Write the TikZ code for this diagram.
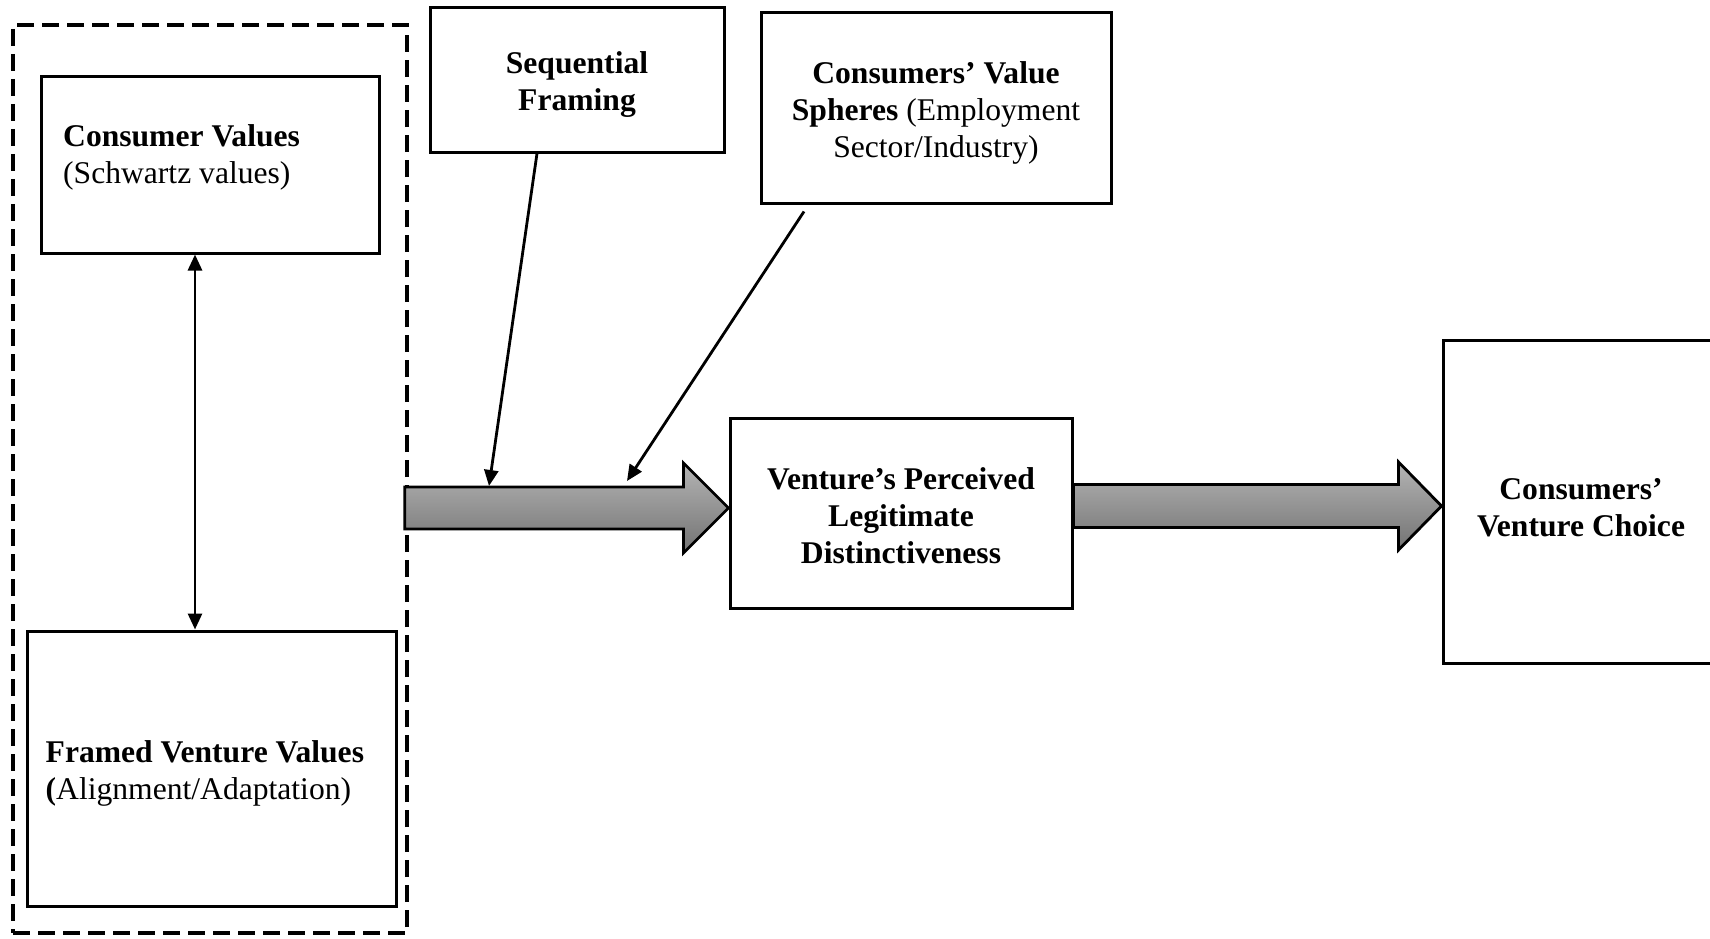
\documentclass[tikz,border=0pt]{standalone}
\usepackage{fontspec}
\setmainfont{Liberation Serif}
\usetikzlibrary{arrows.meta,calc}
\definecolor{arrtop}{RGB}{180,180,180}
\definecolor{arrbot}{RGB}{115,115,115}
\begin{document}
\begin{tikzpicture}[x=1pt,y=-1pt,
  txt/.style={font=\fontsize{31.6pt}{37pt}\selectfont},
  box/.style={draw, line width=3pt, inner sep=0pt},
  groupbox/.style={draw, line width=3.4pt, dash pattern=on 17pt off 8pt},
  lbl/.style={inner sep=0pt, txt},
  conn/.style={line width=2.8pt, -{Triangle[length=16pt,width=14pt]}},
  biconn/.style={line width=2.8pt, {Triangle[length=16pt,width=14pt]}-{Triangle[length=16pt,width=14pt]}},
  bigarrow/.style={draw, line width=2.8pt, top color=arrtop, bottom color=arrbot, line join=miter},
]
\clip (0,0) rectangle (1710,939);
\fill[white] (0,0) rectangle (1710,939);

% left group
\node[groupbox, minimum width=394pt, minimum height=908pt] (group) at (210,479) {};
\node[box, minimum width=338pt, minimum height=176pt] (cv) at (210,165) {};
\node[lbl, anchor=north west, align=left] (cvt) at (63,124) {\textbf{Consumer Values}\\(Schwartz values)};
\node[box, minimum width=369pt, minimum height=275pt] (fv) at (211.5,768.5) {};
\node[lbl, anchor=west, align=left] (fvt) at ($(fv.west)+(20,5)$)
  {\textbf{Framed Venture Values}\\\textbf{(}Alignment/Adaptation)};

% top boxes
\node[box, minimum width=294pt, minimum height=144pt] (seq) at (577,80) {};
\node[lbl, align=center] (seqt) at ($(seq)+(0,5)$) {\textbf{Sequential}\\\textbf{Framing}};
\node[box, minimum width=350pt, minimum height=190pt] (vs) at (936,108) {};
\node[lbl, align=center] (vst) at ($(vs)+(0,5)$)
  {\textbf{Consumers’ Value}\\\textbf{Spheres} (Employment\\Sector/Industry)};

% middle and right
\node[box, minimum width=342pt, minimum height=190pt] (leg) at (901,513) {};
\node[lbl, align=center] (legt) at ($(leg)+(0,3)$)
  {\textbf{Venture’s Perceived}\\\textbf{Legitimate}\\\textbf{Distinctiveness}};
\node[box, minimum width=276pt, minimum height=323pt] (ch) at (1581,501.5) {};
\node[lbl, align=center] (cht) at ($(ch)+(0,6)$) {\textbf{Consumers’}\\\textbf{Venture Choice}};

% big arrows
\coordinate (a1s) at (group.east |- 0,508);
\coordinate (a1e) at (leg.west |- 0,508);
\shadedraw[bigarrow] ($(a1s)+(-4,-21)$) -- ($(a1e)+(-45,-21)$) -- ($(a1e)+(-45,-45)$) -- (a1e)
  -- ($(a1e)+(-45,45)$) -- ($(a1e)+(-45,21)$) -- ($(a1s)+(-4,21)$) -- cycle;

\coordinate (a2s) at (leg.east |- 0,506);
\coordinate (a2e) at (ch.west |- 0,506);
\shadedraw[bigarrow] ($(a2s)+(0,-21.5)$) -- ($(a2e)+(-43,-21.5)$) -- ($(a2e)+(-43,-44)$) -- (a2e)
  -- ($(a2e)+(-43,44)$) -- ($(a2e)+(-43,21.5)$) -- ($(a2s)+(0,21.5)$) -- cycle;

% thin connectors
\coordinate (sfE) at (489,486);
\coordinate (vsE) at (627,481);
\draw[conn] ($(seq.south)+(-40,0)$) -- (sfE);
\draw[conn] ($(vs.south)+(-132,7)$) -- (vsE);
\coordinate (bd) at ($(cv.south)+(-15,0)$);
\draw[biconn] (bd) -- (bd |- fv.north);
\end{tikzpicture}
\end{document}
